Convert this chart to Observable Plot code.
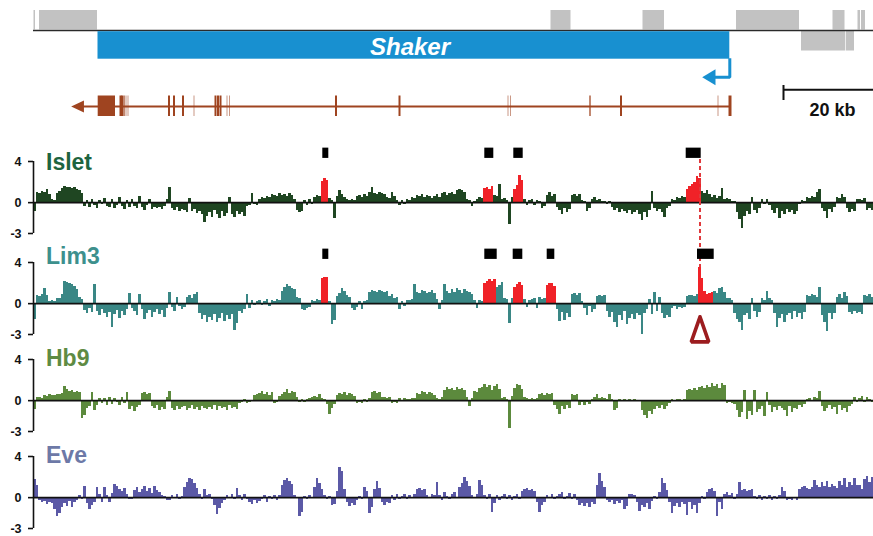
<!DOCTYPE html>
<html><head><meta charset="utf-8">
<script src="https://cdn.jsdelivr.net/npm/d3@7"></script>
<script src="https://cdn.jsdelivr.net/npm/@observablehq/plot@0.6"></script>
<style>
html,body{margin:0;padding:0;background:#fff;overflow:hidden;}
#fig{position:relative;width:873px;height:536px;}
#fig > svg{position:absolute;left:0;}
</style></head><body><div id="fig"></div>
<script>
// ---------- data (genomic position in kb) ----------
const domainKb = [0, 168];
const binKb = 0.5;
const trackNames = ["Islet", "Lim3", "Hb9", "Eve"];
const yTicks = [-3, 0, 4];

const isletSignal = [
-0.9,1.0,0.9,1.1,1.0,1.3,0.8,0.3,0.2,0.9,
1.1,1.4,1.6,1.5,1.5,1.4,1.5,1.3,1.2,0.9,
-0.4,0.2,-0.5,0.3,-0.3,-0.6,0.2,-0.2,0.4,-0.4,
-0.5,0.3,-0.6,-0.3,0.5,-0.4,-0.7,0.2,-0.5,0.3,
-0.4,-0.6,0.6,-0.5,-0.8,-0.3,0.3,-0.7,-0.5,-0.6,
-0.5,-0.7,-0.4,0.3,1.5,-0.6,-0.8,-0.5,-0.9,-0.7,
-0.8,-1.0,0.4,-0.9,-0.7,-1.1,-0.9,-1.2,-1.9,-1.3,
-1.0,-1.4,-0.8,-1.2,-1.5,-0.9,-1.3,-1.1,0.5,-1.2,
-1.4,-0.9,-1.2,-1.0,-1.3,-0.4,-0.3,0.9,-0.2,-0.3,
0.3,0.5,0.4,0.6,0.5,0.8,0.7,0.6,0.9,0.7,
0.8,0.6,0.9,0.7,0.3,-0.8,-1.0,-0.9,0.2,-0.3,
0.3,-0.2,0.5,0.7,0.6,2.1,2.3,2.2,0.4,0.2,
-1.5,0.6,1.2,0.8,0.5,0.3,0.2,0.3,0.2,0.6,
0.7,0.5,0.8,0.6,1.0,1.5,0.9,0.8,1.0,0.9,
0.8,0.5,0.4,1.0,0.6,0.2,-0.3,0.2,-0.2,0.3,
0.2,0.5,0.4,0.7,0.6,0.8,0.5,0.7,0.6,0.4,
0.6,0.8,0.5,0.9,1.0,0.7,0.9,1.0,0.8,1.2,
1.3,1.2,1.0,0.3,0.2,-0.4,0.1,0.3,0.5,0.4,
1.4,1.5,1.3,1.6,0.7,0.6,1.8,0.3,0.4,0.2,
-2.1,0.5,1.3,1.7,2.6,2.2,0.3,-0.3,0.2,0.3,
-0.3,0.2,0.1,-0.6,-0.4,0.7,1.0,0.6,0.8,-0.5,
-0.8,-1.2,-0.6,-1.0,-0.7,0.7,0.8,0.6,0.8,0.2,
0.1,-0.9,-0.6,0.3,0.5,0.2,0.3,0.1,0.1,-0.2,
0.1,-0.5,-0.8,-0.6,-1.0,-0.7,-0.9,-1.1,-0.8,-1.2,
-1.0,-0.8,-1.2,-1.7,-1.0,-1.4,-0.8,1.1,-0.6,-0.9,
-0.7,-1.0,-1.4,-0.6,-0.4,0.3,0.2,0.5,0.4,0.6,
0.5,1.3,1.6,1.8,2.0,2.5,2.3,1.1,0.9,1.2,
0.8,0.5,0.7,0.4,0.6,1.35,0.3,0.4,0.3,0.1,
0.1,-1.0,-1.6,-2.5,-1.3,-0.9,-1.2,0.5,-0.8,-1.1,
-0.6,0.3,-0.2,0.3,-0.3,-0.8,-1.1,-0.6,-1.5,-0.9,
-1.2,-0.7,-1.0,-0.8,-1.2,-0.9,-0.2,0.2,0.1,0.5,
0.4,0.6,0.5,1.0,1.3,-0.6,-0.9,-1.5,-0.7,-1.0,
-0.5,0.5,0.4,0.8,0.5,-0.6,-1.0,-0.7,-0.9,0.3,
0.3,0.2,0.4,-0.8,-0.6,-0.8];

const lim3Signal = [
-1.5,0.8,0.7,0.9,1.45,0.8,0.2,0.3,0.2,0.5,
0.5,0.9,2.2,2.1,2.0,1.9,1.7,1.4,0.6,0.4,
-0.7,-1.0,-0.5,-0.9,1.9,-0.8,-1.2,-0.6,-1.0,-1.3,
-0.9,-2.3,-1.1,-0.7,-1.4,-0.8,-1.2,-0.6,1.0,-0.5,
-0.8,-1.2,0.9,-0.6,-1.5,-1.0,-0.7,-1.3,-0.9,-0.6,
-1.1,-0.7,-1.3,-0.5,1.1,-0.4,-0.8,0.6,-0.3,-0.6,
-0.4,0.6,0.8,0.5,0.9,1.1,-1.0,-1.5,-1.2,-1.8,
-1.3,-1.6,-1.1,-1.8,-1.4,-1.0,-1.7,-1.2,-1.5,-1.1,
-2.6,-1.9,-0.8,-1.0,-0.6,0.9,-0.5,0.3,-0.2,0.2,
0.3,-0.2,0.2,0.4,-0.3,0.3,0.2,0.4,0.3,1.2,
1.6,1.9,1.7,1.5,1.4,0.6,0.5,-0.6,-0.7,-0.5,
-0.4,0.3,0.2,0.4,0.3,2.4,2.55,2.5,0.2,-2.0,
-1.6,0.7,1.0,1.45,1.2,0.8,0.6,-0.5,-0.7,-0.4,
0.2,-0.6,0.2,0.3,1.1,1.3,1.2,1.1,1.3,1.2,
1.1,1.2,0.7,0.9,0.5,0.6,-0.6,0.2,-0.3,0.3,
0.3,0.4,1.9,1.1,1.0,1.3,1.2,1.0,1.1,1.3,
1.0,0.4,-0.6,0.3,1.9,1.2,1.0,1.4,1.1,1.5,
1.3,1.0,1.4,1.2,1.1,0.9,0.3,-0.5,0.3,0.2,
2.0,2.2,2.3,2.2,2.3,1.6,1.8,2.1,0.5,0.4,
-1.9,0.5,1.6,1.9,2.1,1.8,0.4,-0.4,0.3,0.4,
0.5,-0.5,0.6,0.4,0.5,1.8,2.0,2.0,1.7,-0.6,
-1.7,-0.9,-1.6,-1.0,-1.3,0.9,1.0,0.8,1.0,0.2,
-0.5,-1.2,-0.3,-0.9,-0.6,0.7,0.8,0.7,0.8,-0.8,
-1.3,-0.9,-1.8,-2.3,-1.2,-1.6,-0.8,-2.0,-1.4,-1.1,
-1.5,-1.0,-1.2,-3.0,-1.0,-0.6,0.4,-1.1,1.1,-0.8,
0.6,-1.0,-1.4,-1.2,-1.3,-0.5,-0.3,-0.6,-0.4,-0.5,
-0.4,0.7,0.8,0.8,0.7,0.9,3.5,2.4,1.2,0.9,
1.0,1.1,1.2,1.0,1.5,1.6,1.1,0.5,0.5,0.3,
-1.0,-1.5,-1.8,-2.6,-1.2,-1.0,-1.5,0.5,-0.8,-1.3,
-0.9,0.5,0.3,1.2,0.5,0.3,-1.0,-2.3,-1.4,-1.1,
-1.8,-1.2,-1.0,-1.5,-0.8,-1.3,-1.0,-1.5,-0.9,0.8,
0.7,0.9,0.8,0.6,1.6,-1.2,-1.8,-2.7,-1.0,-1.5,
-1.0,0.6,0.9,0.5,1.1,0.7,-0.9,-1.1,-0.8,-1.0,
-0.9,-1.1,0.8,0.7,0.9,0.6];

const hb9Signal = [
-0.9,0.3,0.3,0.2,0.5,0.4,0.6,0.5,0.5,0.6,
0.6,0.7,1.35,1.1,0.9,1.0,0.8,0.9,0.8,-1.7,
-1.4,-0.8,-0.6,0.8,-1.0,-0.5,0.2,-0.3,0.2,-0.5,
0.3,-0.4,0.2,-0.2,-0.5,0.3,-0.3,0.8,-0.9,-0.6,
-1.1,-0.7,-0.5,0.7,0.8,0.6,0.7,-0.6,-0.8,-0.5,
-1.0,-0.7,-0.9,0.3,0.9,-0.8,-1.0,-0.6,-0.9,-0.7,
-0.6,-1.0,-0.8,-0.5,-0.9,-0.7,-1.0,-0.6,-0.8,-0.9,
-0.7,-0.9,-0.5,-1.0,-0.6,-0.8,-0.7,-1.0,-0.5,-0.8,
-0.7,-0.9,-0.3,-0.2,0.1,-0.3,-0.2,-0.1,0.5,0.6,
0.7,0.9,0.6,0.8,0.5,0.8,-0.3,-0.2,0.4,0.6,
0.8,1.1,0.7,0.9,0.8,0.3,-0.2,0.1,-0.2,0.1,
0.2,0.3,0.4,0.3,0.6,0.2,0.1,-0.4,-1.3,-0.8,
-0.4,0.5,0.7,0.6,0.8,0.5,0.7,0.6,0.4,-0.3,
-0.2,-0.3,0.1,-0.2,0.2,0.8,0.9,0.7,0.8,0.3,
0.3,0.2,0.3,-0.3,-0.2,-0.3,0.2,-0.1,0.2,0.1,
0.1,0.2,0.2,0.7,0.6,0.9,0.8,0.6,0.8,0.7,
0.5,0.2,0.1,0.3,1.0,1.3,1.1,1.2,1.0,1.3,
1.1,1.2,1.0,0.3,-0.6,0.2,0.9,0.8,1.2,1.3,
1.6,1.3,1.5,1.0,1.4,1.6,1.1,0.2,0.3,0.1,
-2.7,0.4,1.2,1.6,1.5,1.1,0.3,0.2,0.1,0.2,
0.1,0.2,0.6,0.7,0.5,0.7,0.6,0.7,-0.5,-0.9,
-1.3,-0.6,-0.9,-0.5,-0.8,0.6,0.5,0.6,-0.5,-0.2,
-0.5,-0.2,-0.4,0.1,0.3,0.6,0.2,0.3,0.2,0.1,
0.6,0.1,-1.0,-0.8,0.1,-0.1,0.1,0.0,0.1,-0.1,
0.1,-0.1,0.0,-1.0,-1.4,-1.7,-1.1,-1.3,-0.9,-0.6,
-0.8,-0.5,-0.9,-0.6,-0.3,0.1,-0.1,0.1,0.1,-0.1,
0.1,1.0,1.1,1.0,1.2,1.0,1.3,1.4,1.2,1.5,
1.3,1.7,1.4,1.6,1.2,1.7,1.5,-0.3,-0.2,-0.3,
-0.4,-1.0,-1.6,-1.2,1.0,-1.8,-1.1,-1.4,1.0,-1.2,
-0.9,-0.6,-1.5,0.8,-0.5,-1.2,-0.7,-1.0,-0.6,-0.8,
-1.0,-1.5,-0.6,-1.2,-0.8,-0.9,-0.5,-0.7,-0.4,0.1,
0.2,-0.1,0.3,0.2,0.9,-0.6,-1.1,-0.8,-0.5,-0.9,
-0.7,-1.3,-0.5,-1.0,-0.8,-1.2,-0.6,-0.4,0.3,-0.2,
0.2,0.4,-0.2,0.3,0.1,-0.2];

const eveSignal = [
1.8,1.2,-0.3,-0.5,-0.4,-0.7,-0.5,-0.6,-1.2,-1.8,
-1.5,-1.0,-0.6,-0.9,-0.4,-1.0,-0.5,-0.3,0.2,-0.2,
1.1,-0.6,-1.2,-0.8,-0.5,1.0,0.3,-0.5,1.0,0.2,
-0.5,0.4,1.3,1.1,0.8,0.6,0.9,0.3,-0.2,-0.2,
0.7,1.0,0.5,0.8,1.1,0.6,0.9,0.4,1.1,0.7,
0.5,0.2,0.1,-0.3,-0.3,0.2,-0.1,0.3,-0.2,0.1,
1.0,1.5,1.9,1.8,1.4,0.9,0.3,-0.2,0.8,0.2,
0.3,-0.2,-0.8,-1.6,-1.1,-0.6,-0.3,0.2,-0.1,0.3,
-0.2,0.9,0.2,-0.3,0.3,-0.2,-0.5,-0.7,-0.3,-0.6,
-0.4,-0.2,0.2,-0.5,0.1,-0.2,0.2,-0.3,0.2,1.2,
1.7,1.9,1.6,1.3,0.2,-0.1,-1.8,-1.4,0.1,-0.2,
0.2,-0.1,1.0,1.9,1.4,0.8,0.2,-0.2,0.1,-0.8,
-0.7,0.6,2.9,2.5,0.8,-0.5,-0.9,-0.6,-0.8,-0.3,
0.1,-0.2,1.0,0.6,-1.5,-1.0,0.8,1.6,0.9,-0.5,
-0.8,-0.5,-0.6,0.2,-0.3,0.3,-0.2,0.1,0.3,-0.2,
0.2,-0.1,0.3,0.8,0.9,0.7,0.8,0.2,-0.1,0.3,
0.2,1.5,0.2,-0.3,0.5,0.1,-0.2,0.3,0.5,-0.1,
1.0,1.4,2.0,1.6,1.1,0.2,-0.1,0.3,1.7,1.2,
0.2,-0.2,0.3,-1.4,-0.6,0.2,-0.3,0.1,0.3,-0.2,
0.2,-0.3,0.1,0.3,-0.2,0.6,0.8,0.9,0.7,0.8,
0.6,-0.5,-1.4,-0.8,-0.5,0.2,-0.1,0.3,-0.2,0.1,
0.3,0.5,-0.2,0.1,0.4,-0.2,0.3,-0.3,-0.8,-0.6,
-0.9,-0.6,-1.0,-0.5,-0.7,1.2,2.3,1.6,1.0,-0.3,
-0.5,-0.3,-0.7,-0.4,-0.6,-0.3,-1.2,-0.9,0.3,0.3,
0.2,-0.5,-1.3,-0.8,-1.0,-0.6,-1.2,-0.4,0.1,-0.2,
0.5,1.9,1.4,0.7,-0.5,-1.5,-0.9,-0.6,-1.0,-0.5,
-0.7,-1.7,-0.5,-1.2,-0.8,-1.5,-0.6,0.1,-0.2,0.5,
0.8,0.9,0.6,-1.8,-0.5,-1.2,0.3,0.5,0.2,0.4,
-0.2,0.3,1.5,0.7,0.8,0.6,0.7,0.8,0.1,-0.2,
0.2,-0.3,0.1,-0.2,0.2,-0.3,0.1,-0.2,0.2,1.0,
0.6,-0.3,-0.2,-0.3,-0.1,-0.3,0.8,1.0,1.1,0.9,
0.8,1.0,1.7,1.2,1.0,1.5,1.1,1.6,1.0,1.3,
1.1,0.9,1.6,1.2,1.9,1.0,1.5,1.2,1.9,1.2,
1.2,0.8,1.8,2.1,1.5,2.0];

// peak calls (black boxes) and enriched regions (red), kb
const isletPeakCalls = [[57.86,59.06],[90.26,92.06],[96.06,97.94],[130.54,133.54]];
const lim3PeakCalls  = [[57.86,59.06],[90.26,92.74],[95.94,97.86],[102.74,104.26],[132.8,136.14]];
const isletEnriched  = [[57.7,59.1],[90.2,92.0],[96.0,97.9],[130.6,133.5]];
const lim3Enriched   = [[57.7,59.1],[90.2,92.5],[96.0,97.9],[102.6,104.4],[133.1,135.9]];
const markerKb = 133.3;

// gene annotation, kb
const repeatsAbove = [[0.1,0.4],[1.2,12.8],[103.5,107.5],[121.9,126.2],[140.6,153.2],[159.9,162.3],[164.9,165.4],[165.6,166.4]];
const repeatsBelow = [[153.6,162.4],[162.54,164.2]];
const shakerTranscript = {name: "Shaker", start: 12.9, end: 139.26, labelAt: 75.3};
const geneModelSpan = [7.54, 139.3];
const exonBlock = [12.94, 16.4];
const exonPositions = [17.4,17.7,18.1,18.5,18.9,27.1,28.1,29.9,32.1,36.4,36.9,37.4,38.7,39.2,60.5,73.2,94.9,95.4,111.3,117.5,136.9,139.3];
const exonWeights = ["thick","thick","mid","thin","thin","thick","thick","thick","thin","thick","thick","thick","thin","thin","thick","thick","thin","thin","mid","thick","thin","heavy"];
const scaleBar = {start: 150, length: 20, unit: "kb", labelAt: 159.8};

// ---------- styling / layout ----------
const FONT = "'Liberation Sans', Arial, Helvetica, sans-serif";
const BLUE = "#1890d0", BROWN = "#9f4420", GRAY = "#c2c2c2", RED = "#f02228";
const trackStyle = {
  Islet: {bar: "#1f4622", label: "#1d6440", baseline: 202.3, labelY: 3.2},
  Lim3:  {bar: "#3a8785", label: "#3d908d", baseline: 303.3, labelY: 3.85},
  Hb9:   {bar: "#5c8a3d", label: "#5e8b43", baseline: 400.0, labelY: 3.4},
  Eve:   {bar: "#5b59a6", label: "#6d79a7", baseline: 496.7, labelY: 3.4}
};
const signals = {Islet: isletSignal, Lim3: lim3Signal, Hb9: hb9Signal, Eve: eveSignal};
const peakCalls = {Islet: isletPeakCalls, Lim3: lim3PeakCalls};
const enriched = {Islet: isletEnriched, Lim3: lim3Enriched};

const fig = document.getElementById("fig");
const W = 873, ML = 33, MR = 0;

// ---------- gene annotation panel ----------
// lanes in units of 10 px from the top
const L = {repTop: [1.0, 2.95], repBot: [3.08, 5.05], line: 3.0, tx: [3.12, 5.87], txLabel: 5.4,
           bArrowY: 7.67, bHead: 0.8, model: 10.6, exon: [9.55, 11.6], mHead: 0.6,
           scale: 8.93, scaleTick: [8.5, 10.0], scaleLabel: 11.5};
const blueArrowPath = [
  {x: shakerTranscript.end, y: L.tx[1] - 0.1},
  {x: shakerTranscript.end, y: L.bArrowY},
  {x: shakerTranscript.end - 3.0, y: L.bArrowY}
];
const blueHeadTip = shakerTranscript.end - 5.52, blueHeadBase = shakerTranscript.end - 2.86;
const blueHead = [
  {x: blueHeadTip, y: L.bArrowY}, {x: blueHeadBase, y: L.bArrowY - L.bHead},
  {x: blueHeadBase, y: L.bArrowY + L.bHead}, {x: blueHeadTip, y: L.bArrowY}
];
const modelHeadBase = geneModelSpan[0] + 2.55;
const modelHead = [
  {x: geneModelSpan[0], y: L.model}, {x: modelHeadBase, y: L.model - L.mHead},
  {x: modelHeadBase, y: L.model + L.mHead}, {x: geneModelSpan[0], y: L.model}
];
const exons = exonPositions.map((p, i) => ({p, w: exonWeights[i]}));
const exonStyle = {thin: [1, 0.55], mid: [1.5, 0.85], thick: [2, 1], heavy: [3, 1]};

const genePlot = Plot.plot({
  width: W, height: 130, marginLeft: ML, marginRight: MR, marginTop: 0, marginBottom: 0,
  x: {domain: domainKb, axis: null},
  y: {domain: [0, 13], range: [0, 130], axis: null},
  style: {background: "none", overflow: "visible", fontFamily: FONT},
  marks: [
    Plot.rect(repeatsAbove, {x1: d => d[0], x2: d => d[1], y1: L.repTop[0], y2: L.repTop[1], fill: GRAY}),
    Plot.rect(repeatsBelow, {x1: d => d[0], x2: d => d[1], y1: L.repBot[0], y2: L.repBot[1], fill: GRAY}),
    Plot.ruleY([L.line], {stroke: "#2a2a2a", strokeWidth: 1.6}),
    Plot.rect([shakerTranscript], {x1: "start", x2: "end", y1: L.tx[0], y2: L.tx[1], fill: BLUE}),
    Plot.text([shakerTranscript], {x: "labelAt", y: L.txLabel, text: "name", fill: "white",
      fontSize: 24, fontWeight: "bold", fontStyle: "italic", lineAnchor: "bottom", fontFamily: FONT}),
    Plot.line(blueArrowPath, {x: "x", y: "y", stroke: BLUE, strokeWidth: 3, strokeLinejoin: "miter", strokeLinecap: "butt"}),
    Plot.line(blueHead, {x: "x", y: "y", fill: BLUE, stroke: "none"}),
    Plot.ruleY([L.model], {x1: modelHeadBase - 0.3, x2: geneModelSpan[1], stroke: BROWN, strokeWidth: 2}),
    Plot.line(modelHead, {x: "x", y: "y", fill: BROWN, stroke: "none"}),
    Plot.rect([exonBlock], {x1: d => d[0], x2: d => d[1], y1: L.exon[0], y2: L.exon[1], fill: BROWN}),
    ...Object.entries(exonStyle).map(([w, [sw, op]]) =>
      Plot.ruleX(exons.filter(e => e.w === w), {x: "p", y1: L.exon[0], y2: L.exon[1], stroke: BROWN, strokeWidth: sw, strokeOpacity: op})),
    Plot.ruleY([L.scale], {x1: scaleBar.start, x2: scaleBar.start + scaleBar.length, stroke: "#111", strokeWidth: 2}),
    Plot.ruleX([scaleBar.start], {y1: L.scaleTick[0], y2: L.scaleTick[1], stroke: "#111", strokeWidth: 2}),
    Plot.text([scaleBar], {x: "labelAt", y: L.scaleLabel, text: d => `${d.length} ${d.unit}`, fill: "#111",
      fontSize: 18, fontWeight: "bold", lineAnchor: "bottom", fontFamily: FONT})
  ]
});
genePlot.style.top = "0px";
fig.appendChild(genePlot);

// ---------- signal tracks ----------
const H = 114, MT = 38, MB = 4;
const pxPerUnit = (H - MT - MB) / (yTicks[2] - yTicks[0]);

trackNames.forEach((name, ti) => {
  const st = trackStyle[name];
  const rows = signals[name].map((v, j) => ({x1: j * binKb, x2: (j + 1) * binKb, c: (j + 0.5) * binKb, v}));
  const regions = enriched[name] || [];
  const isRed = d => regions.some(([a, b]) => d.c >= a && d.c <= b);
  const marks = [
    Plot.rect(rows.filter(d => !isRed(d)), {x1: "x1", x2: "x2", y1: 0, y2: "v", fill: st.bar, shapeRendering: "crispEdges"}),
    Plot.rect(rows.filter(isRed), {x1: "x1", x2: "x2", y1: 0, y2: "v", fill: RED, shapeRendering: "crispEdges"}),
    Plot.ruleY([0], {stroke: "#111", strokeWidth: 1.6}),
    Plot.ruleX([domainKb[0]], {y1: yTicks[0], y2: yTicks[2], stroke: "#111", strokeWidth: 1.6}),
    Plot.axisY(yTicks, {anchor: "left", label: null, tickSize: 5, tickPadding: 7, strokeWidth: 1.6, stroke: "#111",
      tickFormat: d => String(d), fontSize: 12.5, fontWeight: "bold", fill: "#111", fontFamily: FONT}),
    Plot.text([name], {x: 2.5, y: st.labelY, text: d => d, fill: st.label, fontSize: 23, fontWeight: "bold",
      textAnchor: "start", lineAnchor: "bottom", fontFamily: FONT})
  ];
  if (peakCalls[name]) {
    marks.push(Plot.rect(peakCalls[name], {x1: d => d[0], x2: d => d[1], y1: 4.3, y2: 5.3, fill: "#000"}));
  }
  if (name === "Islet") {
    const span = (trackStyle.Lim3.baseline - st.baseline) / pxPerUnit;
    marks.push(Plot.ruleX([markerKb], {y1: 4.2, y2: -span + 0.2, stroke: "#e0393c", strokeWidth: 2, strokeDasharray: "4,3"}));
  }
  if (name === "Lim3") {
    const tri = [
      {x: markerKb, y: -1.28}, {x: markerKb + 1.75, y: -3.72},
      {x: markerKb - 1.75, y: -3.72}, {x: markerKb, y: -1.28}
    ];
    marks.push(Plot.line(tri, {x: "x", y: "y", stroke: "#9c1c1f", strokeWidth: 3.6, fill: "white", strokeLinejoin: "miter"}));
  }
  const svg = Plot.plot({
    width: W, height: H, marginLeft: ML, marginRight: MR, marginTop: MT, marginBottom: MB,
    x: {domain: domainKb, axis: null},
    y: {domain: [yTicks[0], yTicks[2]], axis: null},
    style: {background: "none", overflow: "visible", fontFamily: FONT},
    marks
  });
  svg.style.top = (st.baseline - MT - yTicks[2] * pxPerUnit) + "px";
  fig.appendChild(svg);
});
</script></body></html>
